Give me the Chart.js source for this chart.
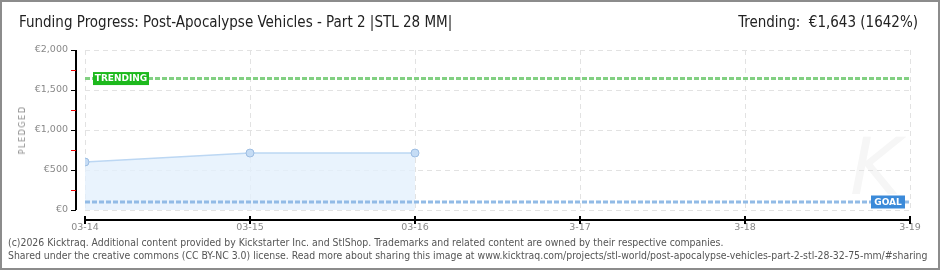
<!DOCTYPE html>
<html><head><meta charset="utf-8">
<script src="https://cdn.jsdelivr.net/npm/chart.js@4"></script>
<style>
html,body{margin:0;padding:0;background:#fff;}
#wrap{position:relative;width:940px;height:270px;overflow:hidden;background:#fff}
#c{position:absolute;left:0;top:0}
.t{position:absolute;white-space:nowrap;font-family:"DejaVu Sans Condensed","DejaVu Sans",sans-serif}
#frame{position:absolute;left:0;top:0;width:940px;height:270px;box-sizing:border-box;border:2px solid #8c8c8c;pointer-events:none}
</style></head>
<body>
<div id="wrap">
  <div class="t" style="left:850px;top:122px;font-size:78px;font-style:italic;color:#f6f6f6;font-family:'DejaVu Sans',sans-serif">K</div>
  <canvas id="c" width="940" height="270"></canvas>
  <div class="t" id="title" style="left:19px;top:13px;font-size:15px;color:#222;font-family:'Liberation Sans Narrow','DejaVu Sans Condensed',sans-serif">Funding Progress: Post-Apocalypse Vehicles - Part 2 |STL 28 MM|</div>
  <div class="t" id="trend" style="right:22px;top:13px;font-size:15px;color:#222;font-family:'Liberation Sans Narrow','DejaVu Sans Condensed',sans-serif">Trending:&nbsp; €1,643 (1642%)</div>
  <div class="t" style="left:22px;top:130px;font-size:9px;color:#888;letter-spacing:1.5px;transform:translate(-50%,-50%) rotate(-90deg);">PLEDGED</div>
  <div class="t" style="left:8px;top:236px;font-size:10.4px;color:#555;">(c)2026 Kicktraq. Additional content provided by Kickstarter Inc. and StlShop. Trademarks and related content are owned by their respective companies.</div>
  <div class="t" style="left:8px;top:249px;font-size:10.4px;color:#555;">Shared under the creative commons (CC BY-NC 3.0) license. Read more about sharing this image at www.kicktraq.com/projects/stl-world/post-apocalypse-vehicles-part-2-stl-28-32-75-mm/#sharing</div>
  <div id="frame"></div>
</div>
<script>
const categories = ["03-14","03-15","03-16","3-17","3-18","3-19"];
const pledged = [600, 712, 712];
const goal = 100;
const trending = 1643;
const yMax = 2000;
const yStep = 500;

const overlay = {
  id:'overlay',
  afterDraw(chart){
    const ctx = chart.ctx, x = chart.scales.x, y = chart.scales.y, a = chart.chartArea;
    ctx.save();
    ctx.strokeStyle = '#000'; ctx.lineWidth = 2;
    const ax = a.left - 9;
    ctx.beginPath(); ctx.moveTo(ax, y.getPixelForValue(yMax)); ctx.lineTo(ax, y.getPixelForValue(0)); ctx.stroke();
    for (let v = 0; v <= yMax; v += yStep/2){
      const py = Math.round(y.getPixelForValue(v)) + 0.5;
      ctx.strokeStyle = (v % yStep === 0) ? '#000' : '#e00';
      ctx.lineWidth = 1;
      ctx.beginPath(); ctx.moveTo(ax - 5, py); ctx.lineTo(ax, py); ctx.stroke();
    }
    const ay = a.bottom + 10;
    ctx.strokeStyle = '#000'; ctx.lineWidth = 2;
    ctx.beginPath(); ctx.moveTo(x.getPixelForValue(0), ay); ctx.lineTo(x.getPixelForValue(categories.length-1), ay); ctx.stroke();
    for (let i = 0; i < categories.length; i++){
      const px = Math.round(x.getPixelForValue(i));
      ctx.lineWidth = 2;
      ctx.beginPath(); ctx.moveTo(px, ay - 4); ctx.lineTo(px, ay + 4); ctx.stroke();
    }
    function tag(text, bx, cy, w, bg){
      ctx.fillStyle = bg;
      ctx.fillRect(bx, cy - 6.5, w, 13);
      ctx.fillStyle = '#fff';
      ctx.font = 'bold 9px "DejaVu Sans", sans-serif';
      ctx.textBaseline = 'middle'; ctx.textAlign = 'center';
      ctx.fillText(text, bx + w/2, cy + 0.5);
    }
    tag('TRENDING', x.getPixelForValue(0) + 8, y.getPixelForValue(trending), 56, '#1db91d');
    tag('GOAL', x.getPixelForValue(categories.length-1) - 39, y.getPixelForValue(goal), 34, '#3b8ad9');
    ctx.restore();
  }
};

const lastX = categories.length - 1;
new Chart(document.getElementById('c'), {
  type: 'line',
  data: {
    datasets: [
      {
        data: [{x:0,y:trending},{x:lastX,y:trending}],
        borderColor: '#82d082', borderWidth: 3, borderDash: [5,2], pointRadius: 0, fill: false, order: 1
      },
      {
        data: [{x:0,y:goal},{x:lastX,y:goal}],
        borderColor: '#92bbe6', borderWidth: 3, borderDash: [5,2], pointRadius: 0, fill: false, order: 1
      },
      {
        data: pledged.map((v,i)=>({x:i,y:v})),
        borderColor: '#bcd7f3', borderWidth: 1.5,
        backgroundColor: 'rgba(228,240,253,0.8)', fill: 'origin',
        pointRadius: 4, pointBackgroundColor: '#c5dcf5', pointBorderColor: '#9dbde2', pointBorderWidth: 1,
        tension: 0, order: 2
      }
    ]
  },
  options: {
    responsive: false, animation: false, devicePixelRatio: 1,
    layout: { padding: { top: 50, right: 30, left: 0, bottom: 0 } },
    plugins: { legend: { display: false }, tooltip: { enabled: false } },
    scales: {
      x: {
        type: 'linear', min: 0, max: lastX,
        afterFit(s){ s.height = 60; },
        ticks: { stepSize: 1, callback: v => categories[v], color: '#888', font: { size: 9.5, family: '"DejaVu Sans", sans-serif' }, padding: 12, maxRotation: 0 },
        grid: { color: '#e2e2e2', drawTicks: false, lineWidth: 1 },
        border: { display: false, dash: [5,4] }
      },
      y: {
        min: 0, max: yMax,
        afterFit(s){ s.width = 85; },
        ticks: { stepSize: yStep, callback: v => '€' + v.toLocaleString('en-US'), color: '#888', font: { size: 9.5, family: '"DejaVu Sans", sans-serif' }, padding: 17 },
        grid: { color: '#e2e2e2', drawTicks: false, lineWidth: 1 },
        border: { display: false, dash: [5,4] }
      }
    }
  },
  plugins: [overlay]
});
</script>
</body></html>
